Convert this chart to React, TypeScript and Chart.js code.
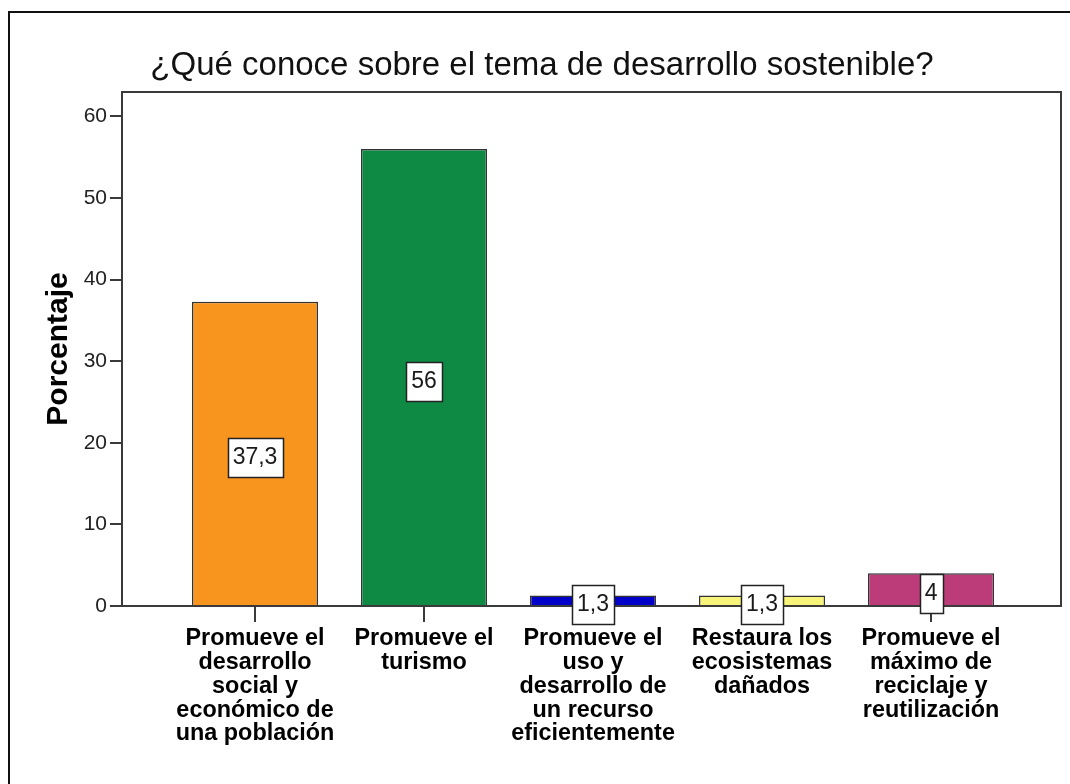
import React, { useEffect, useRef } from "react";
import { Chart, registerables } from "chart.js";

Chart.register(...registerables);

const chartTitle = "¿Qué conoce sobre el tema de desarrollo sostenible?";
const yAxisTitle = "Porcentaje";

const categories: string[][] = [
  ["Promueve el", "desarrollo", "social y", "económico de", "una población"],
  ["Promueve el", "turismo"],
  ["Promueve el", "uso y", "desarrollo de", "un recurso", "eficientemente"],
  ["Restaura los", "ecosistemas", "dañados"],
  ["Promueve el", "máximo de", "reciclaje y", "reutilización"],
];
const percentages: number[] = [37.3, 56, 1.3, 1.3, 4];
const barColors: string[] = ["#F7951F", "#0F8A45", "#0000C8", "#F8F47A", "#BC3C79"];
const yTickValues: number[] = [0, 10, 20, 30, 40, 50, 60];

const FONT = '"Liberation Sans", Arial, sans-serif';

const formatValue = (v: number) => String(v).replace(".", ",");

const frameAndLabels = {
  id: "frameAndLabels",
  afterDatasetsDraw(chart: any) {
    const { ctx, chartArea: a } = chart;
    ctx.save();
    ctx.strokeStyle = "#3a3a3a";
    ctx.lineWidth = 2;
    ctx.strokeRect(a.left, a.top, a.right - a.left, a.bottom - a.top);

    const meta = chart.getDatasetMeta(0);
    ctx.font = `23px ${FONT}`;
    ctx.textAlign = "center";
    ctx.textBaseline = "middle";
    meta.data.forEach((el: any, i: number) => {
      const { x, y, base } = el.getProps(["x", "y", "base"], true);
      const text = formatValue(percentages[i]);
      const w = Math.round(ctx.measureText(text).width + 10);
      const h = 39;
      const cy = Math.round((y + base) / 2 + 4);
      const left = Math.round(x - w / 2) + 0.5;
      const top = Math.round(cy - h / 2) + 0.5;
      ctx.fillStyle = "#ffffff";
      ctx.fillRect(left, top, w, h);
      ctx.strokeStyle = "#222";
      ctx.lineWidth = 1.5;
      ctx.strokeRect(left, top, w, h);
      ctx.fillStyle = "#1a1a1a";
      ctx.fillText(text, x, cy + 1);
    });
    ctx.restore();
  },
};

export default function App() {
  const canvasRef = useRef<HTMLCanvasElement | null>(null);

  useEffect(() => {
    if (!canvasRef.current) return;
    const chart = new Chart(canvasRef.current, {
      type: "bar",
      data: {
        datasets: [
          {
            data: percentages.map((v, i) => ({ x: i, y: v })),
            backgroundColor: barColors,
            borderColor: "#333",
            borderWidth: 1.5,
            barPercentage: 0.746,
            categoryPercentage: 1,
          } as any,
        ],
      },
      options: {
        responsive: false,
        animation: false,
        layout: { padding: { left: 23, right: 9, top: 0, bottom: 0 } },
        plugins: {
          legend: { display: false },
          tooltip: { enabled: false },
          title: {
            display: true,
            text: chartTitle,
            color: "#111",
            font: { family: FONT, size: 33, weight: "normal", lineHeight: 1.2 },
            padding: { top: 46, bottom: 6.4 },
          },
        },
        scales: {
          x: {
            type: "linear",
            offset: false,
            min: -0.787,
            max: 4.769,
            afterBuildTicks: (scale: any) => {
              scale.ticks = categories.map((_, i) => ({ value: i }));
            },
            afterFit: (scale: any) => {
              scale.height = 178;
            },
            ticks: {
              autoSkip: false,
              maxRotation: 0,
              minRotation: 0,
              padding: 5,
              color: "#000",
              font: { family: FONT, size: 23.4, weight: "bold", lineHeight: 1.015 },
              callback: (value: any) => categories[Math.round(Number(value))] ?? "",
            },
            grid: {
              offset: false,
              drawOnChartArea: false,
              drawTicks: true,
              tickLength: 16,
              color: "#3a3a3a",
              lineWidth: 2,
            },
            border: { display: false },
          },
          y: {
            type: "linear",
            min: 0,
            max: 63,
            afterBuildTicks: (scale: any) => {
              scale.ticks = yTickValues.map((v) => ({ value: v }));
            },
            afterFit: (scale: any) => {
              scale.width = 99;
            },
            ticks: {
              padding: 3,
              color: "#222",
              font: { family: FONT, size: 21 },
            },
            grid: {
              drawOnChartArea: false,
              drawTicks: true,
              tickLength: 12,
              color: "#3a3a3a",
              lineWidth: 2,
            },
            border: { display: false },
            title: {
              display: true,
              text: yAxisTitle,
              color: "#000",
              font: { family: FONT, size: 30, weight: "bold", lineHeight: 1.2 },
              padding: { top: 18, bottom: 0 },
            },
          },
        },
      },
      plugins: [frameAndLabels],
    } as any);
    return () => chart.destroy();
  }, []);

  return (
    <div
      style={{
        position: "fixed",
        left: 0,
        top: 0,
        width: 1070,
        height: 784,
        overflow: "hidden",
        background: "#fff",
      }}
    >
      <div
        style={{
          position: "absolute",
          left: 8,
          top: 11,
          width: 1300,
          height: 1100,
          border: "2.5px solid #111",
          boxSizing: "border-box",
        }}
      />
      <canvas
        ref={canvasRef}
        width={1070}
        height={784}
        style={{ position: "absolute", left: 0, top: 0, display: "block" }}
      />
    </div>
  );
}
